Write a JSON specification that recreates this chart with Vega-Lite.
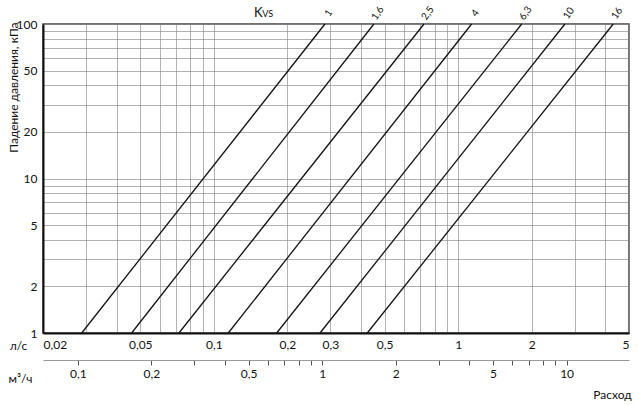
{
  "$schema": "https://vega.github.io/schema/vega-lite/v6.json",
  "width": 586,
  "height": 309,
  "autosize": {"type": "none"},
  "padding": {"left": 43, "top": 24, "right": 9, "bottom": 72},
  "config": {
    "font": "Lato",
    "view": {"stroke": "#444", "strokeWidth": 1.5},
    "axis": {
      "labelFont": "Lato",
      "titleFont": "Lato",
      "labelFontSize": 12,
      "titleFontSize": 12,
      "titleFontWeight": "normal",
      "labelColor": "#111",
      "titleColor": "#111"
    }
  },
  "title": {
    "text": "Расход",
    "orient": "bottom",
    "anchor": "end",
    "fontSize": 12,
    "fontWeight": "normal",
    "font": "Lato",
    "color": "#111",
    "offset": 6
  },
  "datasets": {
    "curves": [
      {"kvs": 1, "q": 0.0288, "dp": 1}, {"kvs": 1, "q": 0.285, "dp": 100},
      {"kvs": 1.6, "q": 0.0461, "dp": 1}, {"kvs": 1.6, "q": 0.452, "dp": 100},
      {"kvs": 2.5, "q": 0.072, "dp": 1}, {"kvs": 2.5, "q": 0.7246, "dp": 100},
      {"kvs": 4, "q": 0.1146, "dp": 1}, {"kvs": 4, "q": 1.135, "dp": 100},
      {"kvs": 6.3, "q": 0.1808, "dp": 1}, {"kvs": 6.3, "q": 1.819, "dp": 100},
      {"kvs": 10, "q": 0.272, "dp": 1}, {"kvs": 10, "q": 2.734, "dp": 100},
      {"kvs": 16, "q": 0.4246, "dp": 1}, {"kvs": 16, "q": 4.31, "dp": 100}
    ],
    "kvsLabels": [
      {"lab": "1", "q": 0.285, "dp": 100},
      {"lab": "1,6", "q": 0.452, "dp": 100},
      {"lab": "2,5", "q": 0.7246, "dp": 100},
      {"lab": "4", "q": 1.135, "dp": 100},
      {"lab": "6,3", "q": 1.819, "dp": 100},
      {"lab": "10", "q": 2.734, "dp": 100},
      {"lab": "16", "q": 4.31, "dp": 100}
    ],
    "heading": [
      {"t": "K", "q": 0.146, "dp": 100, "size": "big"},
      {"t": "VS", "q": 0.158, "dp": 100, "size": "small"}
    ],
    "m3h": [{"m3h": 0.072}, {"m3h": 18}]
  },
  "layer": [
    {
      "layer": [
        {
          "data": {"name": "curves"},
          "mark": {"type": "line", "color": "#111", "strokeWidth": 1.3},
          "encoding": {
            "x": {
              "field": "q",
              "type": "quantitative",
              "scale": {"type": "log", "domain": [0.02, 5], "nice": false},
              "axis": {
                "orient": "bottom",
                "values": [0.02, 0.03, 0.04, 0.05, 0.06, 0.07, 0.08, 0.09, 0.1, 0.2, 0.3, 0.4, 0.5, 0.6, 0.7, 0.8, 0.9, 1, 2, 3, 4, 5],
                "labelExpr": "indexof([0.02, 0.05, 0.1, 0.2, 0.3, 0.5, 1, 2, 5], datum.value) >= 0 ? replace(format(datum.value, '~g'), '.', ',') : ''",
                "labelFlush": true,
                "labelPadding": 6,
                "ticks": false,
                "domainColor": "#111",
                "domainWidth": 2,
                "grid": true,
                "gridColor": "#888",
                "gridWidth": 0.65,
                "title": "л/с",
                "titleX": -25,
                "titleY": 12,
                "titleAlign": "center",
                "titleBaseline": "middle"
              }
            },
            "y": {
              "field": "dp",
              "type": "quantitative",
              "scale": {"type": "log", "domain": [1, 100], "nice": false},
              "axis": {
                "values": [1, 2, 3, 4, 5, 6, 7, 8, 9, 10, 20, 30, 40, 50, 60, 70, 80, 90, 100],
                "labelExpr": "indexof([1, 2, 5, 10, 20, 50, 100], datum.value) >= 0 ? datum.label : ''",
                "ticks": false,
                "labelPadding": 6,
                "domainColor": "#111",
                "domainWidth": 2,
                "grid": true,
                "gridColor": "#888",
                "gridWidth": 0.65,
                "title": "Падение давления, кПа",
                "titleAngle": -90,
                "titleX": -30,
                "titleY": -2,
                "titleAlign": "right",
                "titleBaseline": "middle"
              }
            },
            "detail": {"field": "kvs", "type": "nominal"}
          }
        },
        {
          "data": {"name": "kvsLabels"},
          "mark": {"type": "text", "angle": 305, "align": "center", "baseline": "middle", "dx": 11, "dy": -3, "fontSize": 10, "color": "#111"},
          "encoding": {
            "x": {"field": "q", "type": "quantitative"},
            "y": {"field": "dp", "type": "quantitative"},
            "text": {"field": "lab"}
          }
        },
        {
          "data": {"name": "heading"},
          "mark": {"type": "text", "align": "left", "baseline": "alphabetic", "dy": -7, "color": "#111"},
          "encoding": {
            "x": {"field": "q", "type": "quantitative"},
            "y": {"field": "dp", "type": "quantitative"},
            "text": {"field": "t"},
            "size": {"field": "size", "type": "nominal", "scale": {"domain": ["big", "small"], "range": [13, 9]}, "legend": null}
          }
        }
      ]
    },
    {
      "data": {"name": "m3h"},
      "mark": {"type": "point", "opacity": 0},
      "encoding": {
        "x": {
          "field": "m3h",
          "type": "quantitative",
          "scale": {"type": "log", "domain": [0.072, 18], "nice": false},
          "axis": {
            "orient": "bottom",
            "offset": 27,
            "values": [0.1, 0.2, 0.3, 0.4, 0.5, 0.6, 0.7, 0.8, 0.9, 1, 2, 3, 4, 5, 6, 7, 8, 9, 10],
            "labelExpr": "indexof([0.1, 0.2, 0.5, 1, 2, 5, 10], datum.value) >= 0 ? replace(format(datum.value, '~g'), '.', ',') : ''",
            "grid": false,
            "ticks": true,
            "tickSize": 5,
            "tickColor": "#555",
            "tickWidth": 1,
            "labelPadding": 3,
            "domainColor": "#999",
            "domainWidth": 1.2,
            "title": "м³/ч",
            "titleX": -23,
            "titleY": 18,
            "titleAlign": "center",
            "titleBaseline": "middle"
          }
        }
      }
    }
  ],
  "resolve": {"scale": {"x": "independent"}, "axis": {"x": "independent"}}
}
